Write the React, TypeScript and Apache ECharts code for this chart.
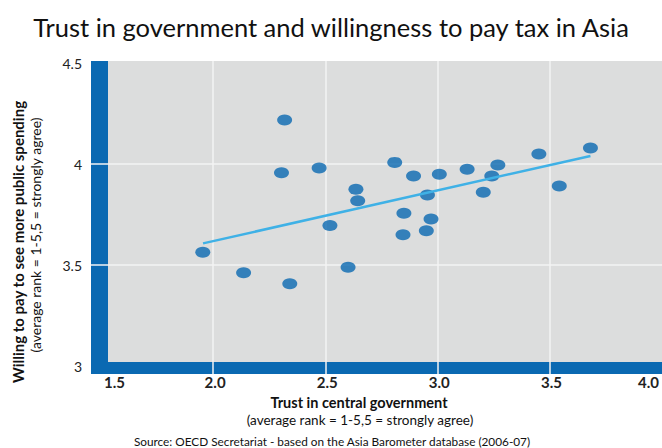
import React, { useEffect, useRef } from "react";
import * as echarts from "echarts";

// ---- data ----
const xTickValues = [1.5, 2.0, 2.5, 3.0, 3.5, 4.0];
const yTickValues = [3, 3.5, 4, 4.5];
const trustInGovernment = [
  2.319, 2.305, 2.473, 2.81, 2.894, 2.637, 2.645, 2.851, 2.521, 2.847, 1.954, 2.136, 2.342,
  2.602, 2.956, 2.972, 2.951, 3.009, 3.133, 3.27, 3.243, 3.205, 3.453, 3.683, 3.544,
];
const willingToPay = [
  4.218, 3.957, 3.98, 4.008, 3.941, 3.875, 3.818, 3.756, 3.695, 3.65, 3.563, 3.462, 3.407,
  3.489, 3.847, 3.728, 3.67, 3.949, 3.974, 3.995, 3.941, 3.86, 4.05, 4.079, 3.891,
];
const trendX = [1.955, 3.683];
const trendY = [3.607, 4.04];

const titleText = "Trust in government and willingness to pay tax in Asia";
const xNameBold = "Trust in central government";
const yNameBold = "Willing to pay to see more public spending";
const axisNote = "(average rank = 1-5,5 = strongly agree)";
const sourceText = "Source: OECD Secretariat - based on the Asia Barometer database (2006-07)";

const FONT = "Lato, 'Open Sans', sans-serif";
const BLUE = "#0a69b2";
const GREY = "#dcdddd";
const GRIDLINE = "#f3f3f3";

export default function App() {
  const ref = useRef<HTMLDivElement>(null);

  useEffect(() => {
    if (!ref.current) return;
    const chart = echarts.init(ref.current, undefined, { renderer: "svg" });
    const xMin = xTickValues[0];
    const xMax = xTickValues[xTickValues.length - 1];
    const yMin = yTickValues[0];
    const yMax = yTickValues[yTickValues.length - 1];

    const splitLine = {
      show: true,
      showMinLine: false,
      showMaxLine: false,
      lineStyle: { color: GRIDLINE, width: 1.5 },
    };

    const option: any = {
      animation: false,
      title: {
        text: titleText,
        left: "center",
        top: 9,
        textStyle: { fontFamily: FONT, fontSize: 25.5, fontWeight: "normal", color: "#111" },
      },
      grid: [
        { left: 101, top: 63, width: 565, height: 303 },
        { left: 101, top: 61, width: 565, height: 313 },
        { left: 91, top: 63, width: 571, height: 303 },
      ],
      xAxis: [
        {
          type: "value",
          gridIndex: 0,
          min: xMin,
          max: xMax,
          interval: 0.5,
          axisLine: { show: false },
          axisTick: { show: false },
          splitLine: { show: false },
          axisLabel: {
            showMinLabel: true,
            showMaxLabel: true,
            margin: 8,
            fontFamily: FONT,
            fontSize: 15,
            fontWeight: "bold",
            color: "#222",
            formatter: (v: number) => {
              const s = v.toFixed(1);
              if (v === xMin) return "{first|" + s + "}";
              if (v === xMax) return "{last|" + s + "}";
              return "{mid|" + s + "}";
            },
            rich: {
              first: { padding: [0, 0, 0, 27], fontFamily: FONT, fontSize: 15, fontWeight: "bold", color: "#222" },
              last: { padding: [0, 26, 0, 0], fontFamily: FONT, fontSize: 15, fontWeight: "bold", color: "#222" },
              mid: { padding: [0, 0, 0, 4], fontFamily: FONT, fontSize: 15, fontWeight: "bold", color: "#222" },
            },
          },
        },
        {
          type: "value",
          gridIndex: 1,
          min: xMin,
          max: xMax,
          interval: 0.5,
          axisLine: { show: false },
          axisTick: { show: false },
          axisLabel: { show: false },
          splitLine,
        },
        { type: "value", gridIndex: 2, min: 0, max: 1, show: false },
      ],
      yAxis: [
        {
          type: "value",
          gridIndex: 0,
          min: yMin,
          max: yMax,
          interval: 0.5,
          axisLine: { show: false },
          axisTick: { show: false },
          splitLine: { show: false },
          axisLabel: {
            showMinLabel: true,
            showMaxLabel: true,
            margin: 19,
            fontFamily: FONT,
            fontSize: 14,
            color: "#222",
          },
        },
        { type: "value", gridIndex: 1, min: 0, max: 1, show: false },
        {
          type: "value",
          gridIndex: 2,
          min: yMin,
          max: yMax,
          interval: 0.5,
          axisLine: { show: false },
          axisTick: { show: false },
          axisLabel: { show: false },
          splitLine,
        },
      ],
      graphic: [
        { type: "rect", z: -10, shape: { x: 91, y: 61, width: 571, height: 313 }, style: { fill: BLUE } },
        { type: "rect", z: -9, shape: { x: 108, y: 61, width: 554, height: 301 }, style: { fill: GREY } },
        {
          type: "text",
          x: 359,
          y: 402,
          style: {
            text: xNameBold,
            fontFamily: FONT,
            fontSize: 14.5,
            lineHeight: 14,
            fontWeight: "bold",
            fill: "#111",
            align: "center",
            verticalAlign: "middle",
          },
        },
        {
          type: "text",
          x: 360,
          y: 420,
          style: {
            text: axisNote,
            fontFamily: FONT,
            fontSize: 13.5,
            lineHeight: 13,
            fill: "#111",
            align: "center",
            verticalAlign: "middle",
          },
        },
        {
          type: "text",
          x: 18,
          y: 242,
          rotation: Math.PI / 2,
          style: {
            text: yNameBold,
            fontFamily: FONT,
            fontSize: 15,
            lineHeight: 14,
            fontWeight: "bold",
            fill: "#111",
            align: "center",
            verticalAlign: "middle",
          },
        },
        {
          type: "text",
          x: 35,
          y: 235,
          rotation: Math.PI / 2,
          style: {
            text: axisNote,
            fontFamily: FONT,
            fontSize: 14,
            lineHeight: 13,
            fill: "#111",
            align: "center",
            verticalAlign: "middle",
          },
        },
        {
          type: "text",
          x: 332,
          y: 441,
          style: {
            text: sourceText,
            fontFamily: FONT,
            fontSize: 11.8,
            lineHeight: 12,
            fill: "#111",
            align: "center",
            verticalAlign: "middle",
          },
        },
      ],
      series: [
        {
          type: "scatter",
          xAxisIndex: 0,
          yAxisIndex: 0,
          z: 2,
          symbol: "circle",
          symbolSize: [15, 11],
          itemStyle: { color: BLUE },
          data: trustInGovernment.map((x, i) => [x, willingToPay[i]]),
        },
        {
          type: "line",
          xAxisIndex: 0,
          yAxisIndex: 0,
          z: 3,
          showSymbol: false,
          symbol: "none",
          lineStyle: { color: "#3fb1e6", width: 2.5 },
          data: trendX.map((x, i) => [x, trendY[i]]),
        },
      ],
    };
    chart.setOption(option);
    return () => chart.dispose();
  }, []);

  return <div ref={ref} style={{ width: 662, height: 448, position: "absolute", left: 0, top: 0 }} />;
}
